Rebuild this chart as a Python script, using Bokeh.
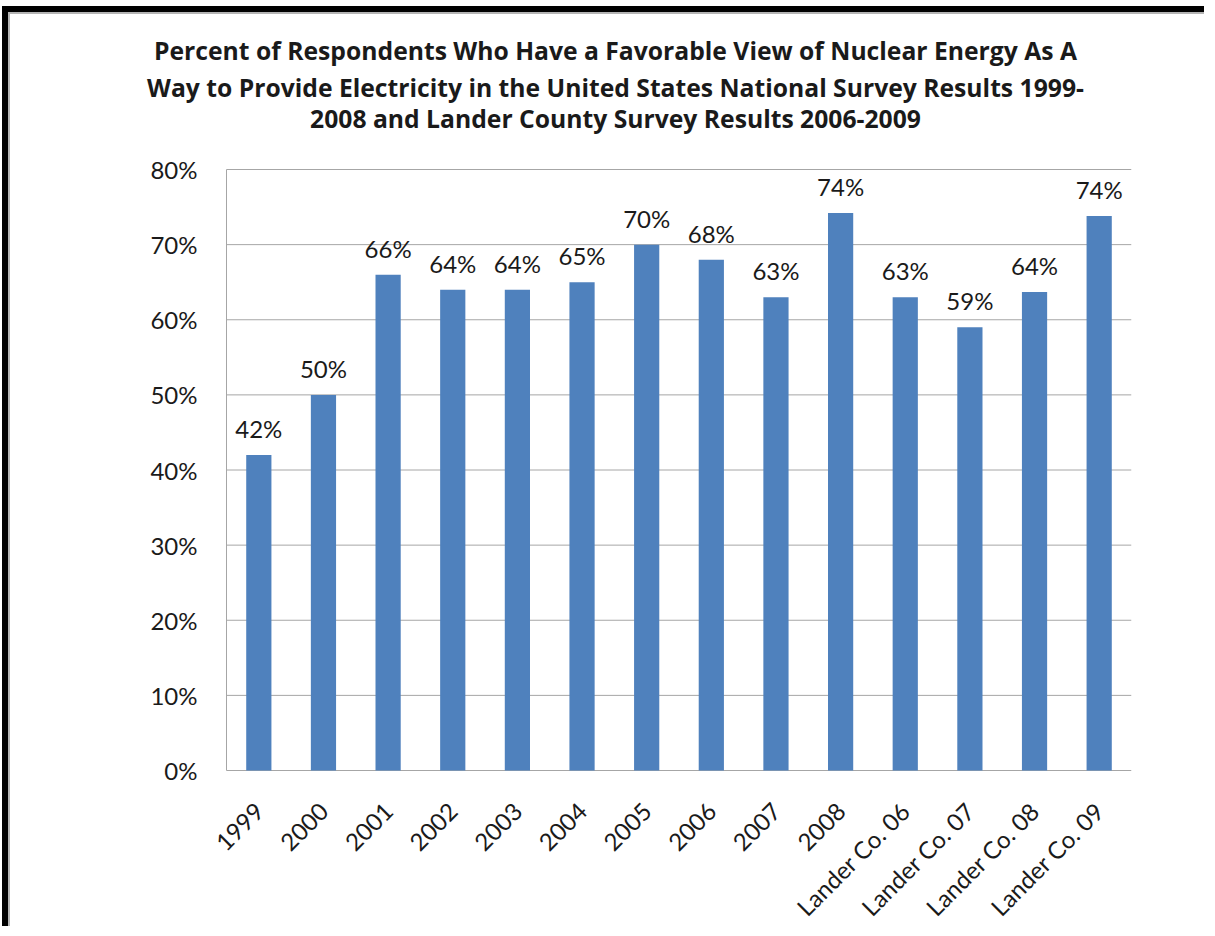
from bokeh.plotting import figure
from bokeh.models import ColumnDataSource, NumeralTickFormatter, FixedTicker, Label, Range1d
from bokeh.core.properties import value
from bokeh.embed import file_html
from bokeh.resources import INLINE
import math

categories = ["1999", "2000", "2001", "2002", "2003", "2004", "2005", "2006", "2007", "2008",
              "Lander Co. 06", "Lander Co. 07", "Lander Co. 08", "Lander Co. 09"]
favorable = [0.42, 0.50, 0.66, 0.64, 0.64, 0.65, 0.70, 0.68, 0.63, 0.742,
             0.63, 0.59, 0.637, 0.738]
labels = [f"{round(v * 100)}%" for v in favorable]
y_ticks = [0.0, 0.1, 0.2, 0.3, 0.4, 0.5, 0.6, 0.7, 0.8]
title_lines = [
    "Percent of Respondents Who Have a Favorable View of Nuclear Energy As A",
    "Way to Provide Electricity in the United States National Survey Results 1999-",
    "2008 and Lander County Survey Results 2006-2009",
]

# canvas origin on the page after CSS margin + border + padding
OX, OY = 11, 14
W, H = 1202, 920
AX_L, AX_R = 226 - OX, 1131 - OX      # canvas x of plot-area left / right
ZERO = 770 - OY                        # canvas y of the 0% line
TOP80 = 169 - OY                       # canvas y of the 80% line
FRAME_L = 120                          # frame extends left so the title is not clipped
DROP = 14                              # frame extends below 0% so its label is not clipped
n = len(categories)
px_per_cat = (AX_R - AX_L) / n
px_per_unit = (ZERO - TOP80) / 0.8
X_START = -0.5 - (AX_L - FRAME_L) / px_per_cat
Y_MAX = ZERO / px_per_unit
Y_MIN = -DROP / px_per_unit

FONT = "Lato"
TXT = "#1a1a1a"
GRID = "#a6a6a6"

xs = list(range(n))
src = ColumnDataSource(dict(x=xs, val=favorable, lab=labels))

p = figure(x_range=Range1d(X_START, n - 0.5), y_range=Range1d(Y_MIN, Y_MAX),
           width=W, height=H, output_backend="svg", toolbar_location=None,
           min_border_left=FRAME_L, min_border_right=W - AX_R,
           min_border_top=0, min_border_bottom=H - ZERO - DROP)
p.styles = {"margin-left": "2px", "margin-top": "6px",
            "border-left": "6px solid black", "border-top": "6px solid black",
            "padding-left": "3px", "padding-top": "2px",
            "box-shadow": "inset 2px 2px 0 0 #b4b4b4"}

p.outline_line_color = None
p.xgrid.grid_line_color = None
p.ygrid.grid_line_color = None
# horizontal gridlines (the 0% one doubles as the category axis line)
p.segment(x0=[-0.5] * len(y_ticks), x1=[n - 0.5] * len(y_ticks), y0=y_ticks, y1=y_ticks,
          line_color=GRID, line_width=1)

p.vbar(x="x", top="val", width=0.39, source=src, fill_color="#4F81BD", line_color=None)
p.text(x="x", y="val", text="lab", source=src, text_align="center", text_baseline="bottom",
       y_offset=-12, text_font=value(FONT), text_font_size="24px", text_color=TXT)

p.yaxis.ticker = FixedTicker(ticks=y_ticks)
p.yaxis.bounds = (0, 0.8)
p.yaxis.fixed_location = -0.5
p.yaxis.formatter = NumeralTickFormatter(format="0%")
p.xaxis.ticker = FixedTicker(ticks=xs)
p.xaxis.major_label_overrides = {i: c for i, c in enumerate(categories)}
p.xaxis.axis_line_color = None
p.yaxis.axis_line_color = GRID
for ax in (p.xaxis, p.yaxis):
    ax.major_tick_line_color = None
    ax.minor_tick_line_color = None
    ax.major_label_text_font = FONT
    ax.major_label_text_font_size = "24px"
    ax.major_label_text_color = TXT
p.yaxis.major_label_standoff = 23
p.xaxis.major_label_orientation = math.pi / 4
p.xaxis.major_label_standoff = 30 - DROP

# title lines inside the frame: screen units from frame left / frame bottom
frame_bottom_page = ZERO + DROP + OY
baselines = [50, 87, 118]
for line, yb in zip(title_lines, baselines):
    p.add_layout(Label(x=615 - OX - FRAME_L, y=frame_bottom_page - yb,
                       x_units="screen", y_units="screen",
                       text=line, text_align="center", text_baseline="alphabetic",
                       text_font="Open Sans", text_font_size="24.7px", text_font_style="bold",
                       text_color=TXT))

open("out.html", "w").write(file_html(p, INLINE))
